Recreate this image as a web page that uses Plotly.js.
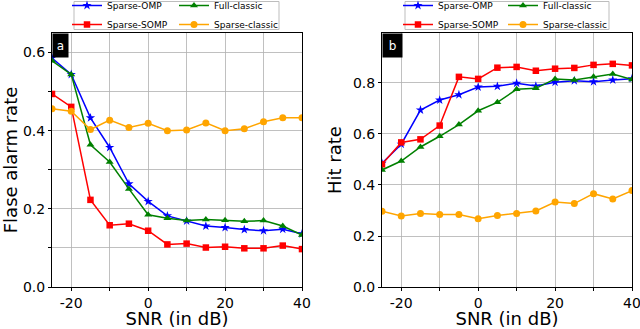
<!DOCTYPE html>
<html>
<head>
<meta charset="utf-8">
<script src="https://cdn.plot.ly/plotly-3.0.1.min.js"></script>
<style>
  html, body { margin: 0; padding: 0; background: #fff; }
  #plot { width: 640px; height: 329px; }
</style>
</head>
<body>
<div id="plot"></div>
<script>
// SNR values shared by both panels
const snr = [-25, -20, -15, -10, -5, 0, 5, 10, 15, 20, 25, 30, 35, 40];

// (a) false alarm rate
const faOmp = [0.586, 0.544, 0.433, 0.357, 0.264, 0.219, 0.182, 0.169, 0.156, 0.152, 0.147, 0.144, 0.148, 0.136];
const faSomp = [0.494, 0.461, 0.223, 0.158, 0.162, 0.144, 0.109, 0.111, 0.101, 0.103, 0.099, 0.099, 0.106, 0.097];
const faFull = [0.579, 0.544, 0.364, 0.320, 0.251, 0.185, 0.176, 0.170, 0.173, 0.171, 0.168, 0.170, 0.156, 0.133];
const faClassic = [0.456, 0.450, 0.403, 0.427, 0.408, 0.419, 0.400, 0.402, 0.420, 0.400, 0.405, 0.423, 0.433, 0.433];

// (b) hit rate
const hrOmp = [0.485, 0.560, 0.694, 0.733, 0.754, 0.784, 0.787, 0.799, 0.788, 0.803, 0.809, 0.805, 0.812, 0.817];
const hrSomp = [0.481, 0.567, 0.579, 0.633, 0.824, 0.816, 0.860, 0.863, 0.848, 0.856, 0.859, 0.871, 0.875, 0.869];
const hrFull = [0.459, 0.494, 0.549, 0.591, 0.637, 0.691, 0.724, 0.775, 0.779, 0.816, 0.812, 0.824, 0.835, 0.814];
const hrClassic = [0.297, 0.278, 0.288, 0.284, 0.284, 0.268, 0.280, 0.288, 0.298, 0.333, 0.327, 0.366, 0.345, 0.378];

const seriesNames = ["Sparse-OMP", "Sparse-SOMP", "Full-classic", "Sparse-classic"];
const xTicks = [-20, -10, 0, 10, 20, 30, 40];
const xTickText = ["-20", "", "0", "", "20", "", "40"];
const faTicks = [0, 0.1, 0.2, 0.3, 0.4, 0.5, 0.6];
const faTickText = ["0.0", "", "0.2", "", "0.4", "", "0.6"];
const hrTicks = [0, 0.2, 0.4, 0.6, 0.8];
const hrTickText = ["0.0", "0.2", "0.4", "0.6", "0.8"];

const colors = ["#0000ff", "#ff0000", "#008000", "#ffa500"];
const symbols = ["star", "square", "triangle-up", "circle"];
const sizes = [7, 6.5, 7, 7];

function makeTrace(y, k, xa, ya, legend) {
  return {
    x: snr,
    y: y,
    name: seriesNames[k],
    type: "scatter",
    mode: "lines+markers",
    line: { color: colors[k], width: 1.5 },
    marker: { color: colors[k], symbol: symbols[k], size: sizes[k] },
    xaxis: xa,
    yaxis: ya,
    legend: legend,
  };
}

// each panel's legend is split into two single-column legends
const traces = [
  makeTrace(faOmp, 0, "x", "y", "legend"),
  makeTrace(faSomp, 1, "x", "y", "legend"),
  makeTrace(faFull, 2, "x", "y", "legend2"),
  makeTrace(faClassic, 3, "x", "y", "legend2"),
  makeTrace(hrOmp, 0, "x2", "y2", "legend3"),
  makeTrace(hrSomp, 1, "x2", "y2", "legend3"),
  makeTrace(hrFull, 2, "x2", "y2", "legend4"),
  makeTrace(hrClassic, 3, "x2", "y2", "legend4"),
];

const W = 640, H = 329;
const px = (v) => v / W;
const py = (v) => 1 - v / H;

const axisBase = {
  showline: true,
  linecolor: "#000",
  linewidth: 1,
  mirror: true,
  showgrid: true,
  gridcolor: "#b0b0b0",
  gridwidth: 0.8,
  zeroline: false,
  ticks: "outside",
  ticklen: 3,
  tickcolor: "#000",
  tickfont: { size: 14, color: "#000" },
  tickmode: "array",
  ticklabeloverflow: "allow",
};

const legendBase = {
  bgcolor: "rgba(0,0,0,0)",
  borderwidth: 0,
  font: { size: 9, color: "#000" },
  xanchor: "left",
  yanchor: "top",
  itemwidth: 30,
  tracegroupgap: 0,
};

const layout = {
  width: W,
  height: H,
  margin: { l: 0, r: 0, t: 0, b: 0, autoexpand: false },
  paper_bgcolor: "#fff",
  plot_bgcolor: "#fff",
  font: { family: "DejaVu Sans", color: "#000" },
  xaxis: Object.assign({}, axisBase, {
    domain: [px(52), px(302)],
    anchor: "y",
    range: [-25, 40],
    tickvals: xTicks,
    ticktext: xTickText,
    title: { text: "SNR (in dB)", font: { size: 18 }, standoff: 7 },
  }),
  yaxis: Object.assign({}, axisBase, {
    domain: [py(287), py(33)],
    anchor: "x",
    range: [0, 0.65],
    tickvals: faTicks,
    ticktext: faTickText,
    title: { text: "Flase alarm rate", font: { size: 18 }, standoff: 8 },
  }),
  xaxis2: Object.assign({}, axisBase, {
    domain: [px(382), px(632)],
    anchor: "y2",
    range: [-25, 40],
    tickvals: xTicks,
    ticktext: xTickText,
    title: { text: "SNR (in dB)", font: { size: 18 }, standoff: 7 },
  }),
  yaxis2: Object.assign({}, axisBase, {
    domain: [py(287), py(33)],
    anchor: "x2",
    range: [0, 0.996],
    tickvals: hrTicks,
    ticktext: hrTickText,
    title: { text: "Hit rate", font: { size: 18 }, standoff: 6 },
  }),
  legend: Object.assign({}, legendBase, { x: px(67), y: py(-9) }),
  legend2: Object.assign({}, legendBase, { x: px(174), y: py(-9) }),
  legend3: Object.assign({}, legendBase, { x: px(398), y: py(-9) }),
  legend4: Object.assign({}, legendBase, { x: px(503), y: py(-9) }),
  shapes: [
    {
      type: "rect", xref: "paper", yref: "paper",
      x0: px(74), x1: px(279), y0: py(1.5), y1: py(29.5),
      line: { color: "#bdbdbd", width: 1 },
    },
    {
      type: "rect", xref: "paper", yref: "paper",
      x0: px(405), x1: px(609), y0: py(1.5), y1: py(29.5),
      line: { color: "#bdbdbd", width: 1 },
    },
  ],
  annotations: [
    {
      xref: "x domain", yref: "y domain", x: 0, y: 1,
      xanchor: "left", yanchor: "top", showarrow: false,
      text: "a", font: { size: 12, color: "#fff" },
      bgcolor: "#000", borderpad: 1, width: 13, height: 21,
    },
    {
      xref: "x2 domain", yref: "y2 domain", x: 0, y: 1,
      xanchor: "left", yanchor: "top", showarrow: false,
      text: "b", font: { size: 12, color: "#fff" },
      bgcolor: "#000", borderpad: 1, width: 17, height: 21,
    },
  ],
};

Plotly.newPlot("plot", traces, layout, { displayModeBar: false, staticPlot: true });
</script>
</body>
</html>
